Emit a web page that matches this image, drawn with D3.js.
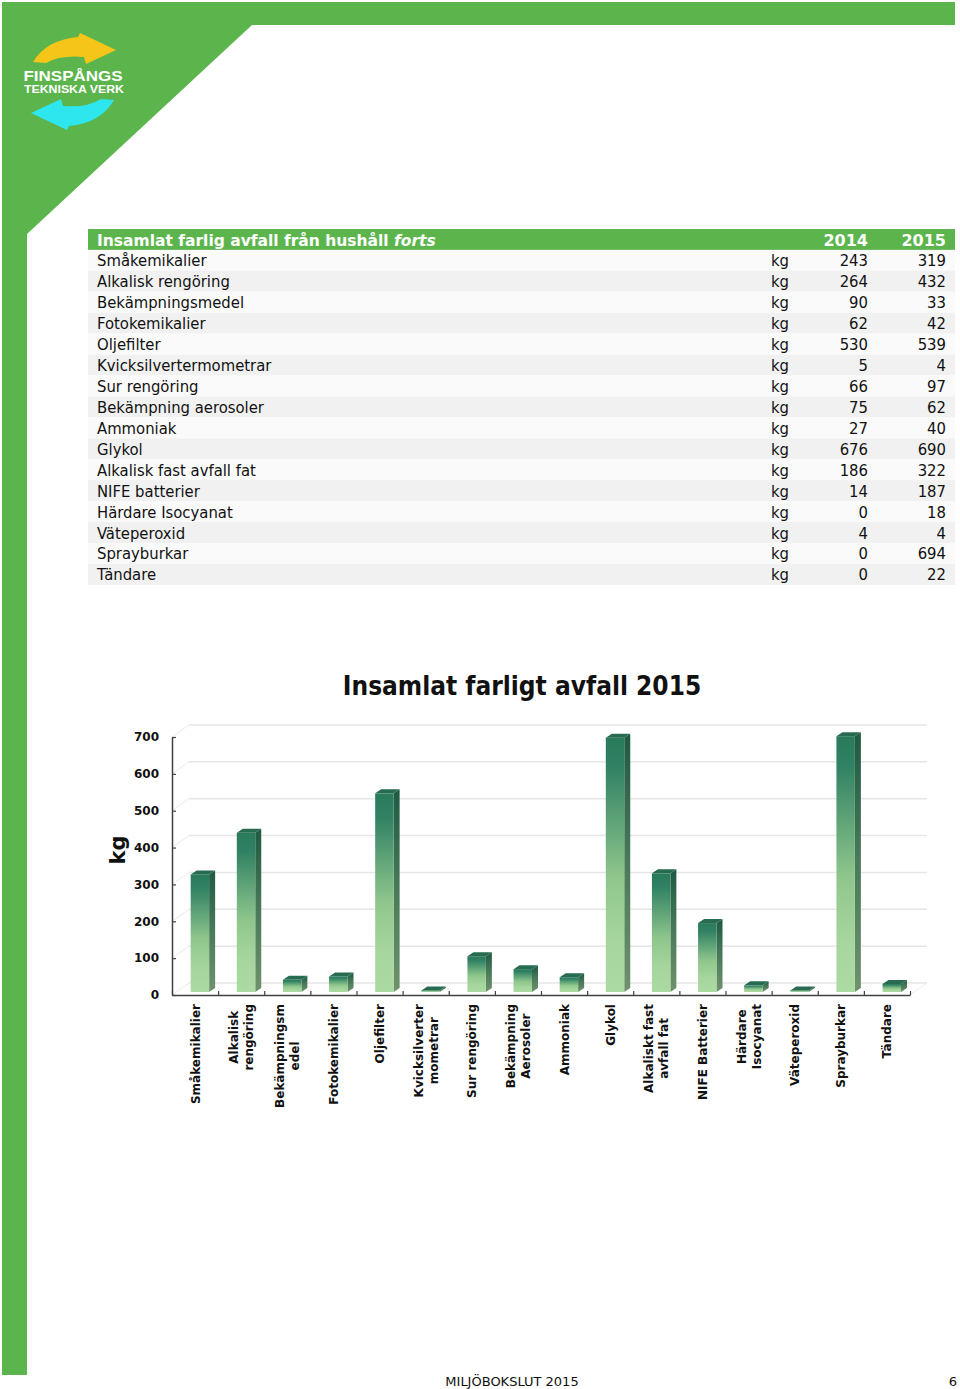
<!DOCTYPE html>
<html><head><meta charset="utf-8">
<script src="https://cdn.jsdelivr.net/npm/d3@7"></script>
<style>
html,body{margin:0;padding:0;background:#fff;}
svg{display:block;}
</style>
</head><body>
<svg id="page" width="960" height="1389"></svg>
<script>
// ---------- DATA ----------
const tableTitle = "Insamlat farlig avfall från hushåll ";
const tableTitleItalic = "forts";
const years = ["2014", "2015"];
const categories = ["Småkemikalier","Alkalisk rengöring","Bekämpningsmedel","Fotokemikalier","Oljefilter","Kvicksilvertermometrar","Sur rengöring","Bekämpning aerosoler","Ammoniak","Glykol","Alkalisk fast avfall fat","NIFE batterier","Härdare Isocyanat","Väteperoxid","Sprayburkar","Tändare"];
const units = ["kg","kg","kg","kg","kg","kg","kg","kg","kg","kg","kg","kg","kg","kg","kg","kg"];
const values2014 = [243,264,90,62,530,5,66,75,27,676,186,14,0,4,0,0];
const values2015 = [319,432,33,42,539,4,97,62,40,690,322,187,18,4,694,22];
const chartTitle = "Insamlat farligt avfall 2015";
const chartLabels = [["Småkemikalier"],["Alkalisk","rengöring"],["Bekämpningsm","edel"],["Fotokemikalier"],["Oljefilter"],["Kvicksilverter","mometrar"],["Sur rengöring"],["Bekämpning","Aerosoler"],["Ammoniak"],["Glykol"],["Alkaliskt fast","avfall fat"],["NIFE Batterier"],["Härdare","Isocyanat"],["Väteperoxid"],["Sprayburkar"],["Tändare"]];
const chartValues = values2015;
const yTicks = [0,100,200,300,400,500,600,700];
const yLabel = "kg";
const footerText = "MILJÖBOKSLUT 2015";
const pageNumber = "6";

// ---------- PAGE ----------
const svg = d3.select("#page");
const GREEN = "#5cb54c";
const FONT = "'DejaVu Sans', Verdana, sans-serif";
const FONTC = "'DejaVu Sans Condensed', 'DejaVu Sans', Verdana, sans-serif";

// green frame
svg.append("rect").attr("x",2).attr("y",2).attr("width",953).attr("height",23).attr("fill",GREEN);
svg.append("rect").attr("x",2).attr("y",2).attr("width",25).attr("height",1373).attr("fill",GREEN);
svg.append("path").attr("d","M2,2 L252,2 L252,25 L27,234 L2,234 Z").attr("fill",GREEN);

// logo
const logo = svg.append("g");
logo.append("path").attr("d","M33,62 Q46,40 78,37 L80,33 L116,50 L86,64 L84,57 Q60,55 46,63 Z").attr("fill","#f6c51a");
logo.append("path").attr("d","M114,100 Q101,123 69,126 L67,130 L31,113 L61,99 L63,106 Q87,108 101,99 Z").attr("fill","#2ee6ee");
logo.append("text").attr("x",73).attr("y",81).attr("text-anchor","middle").attr("font-family","'Liberation Sans', Arial, sans-serif").attr("font-weight","bold").attr("font-size",15).attr("fill","#fff").attr("textLength",99).attr("lengthAdjust","spacingAndGlyphs").text("FINSPÅNGS");
logo.append("text").attr("x",74).attr("y",93).attr("text-anchor","middle").attr("font-family","'Liberation Sans', Arial, sans-serif").attr("font-weight","bold").attr("font-size",11).attr("fill","#fff").attr("textLength",100).attr("lengthAdjust","spacingAndGlyphs").text("TEKNISKA VERK");

// ---------- TABLE ----------
const tX0 = 88, tX1 = 955, hdrY = 229, rowH = 20.93;
const tbl = svg.append("g");
tbl.append("rect").attr("x",tX0).attr("y",hdrY).attr("width",tX1-tX0).attr("height",rowH).attr("fill",GREEN);
const ht = tbl.append("text").attr("x",97).attr("y",hdrY+16.5).attr("font-family",FONT).attr("font-weight","bold").attr("font-size",15.5).attr("fill","#fff");
ht.append("tspan").text(tableTitle);
ht.append("tspan").attr("font-style","italic").text(tableTitleItalic);
const colX = [868, 946];
years.forEach((yr,i)=>{
  tbl.append("text").attr("x",colX[i]).attr("y",hdrY+16.5).attr("text-anchor","end").attr("font-family",FONT).attr("font-weight","bold").attr("font-size",16).attr("fill","#fff").text(yr);
});
const rows = tbl.selectAll("g.row").data(categories).join("g").attr("class","row")
  .attr("transform",(d,i)=>`translate(0,${hdrY+rowH*(i+1)})`);
rows.append("rect").attr("x",tX0).attr("y",0).attr("width",tX1-tX0).attr("height",rowH)
  .attr("fill",(d,i)=> i%2===1 ? "#f1f1f1" : "#fafafa");
rows.append("text").attr("x",97).attr("y",16.5).attr("font-family",FONTC).attr("font-size",16.5).attr("fill","#111").text(d=>d);
rows.append("text").attr("x",789).attr("y",16.5).attr("text-anchor","end").attr("font-family",FONTC).attr("font-size",16.5).attr("fill","#111").text((d,i)=>units[i]);
rows.append("text").attr("x",colX[0]).attr("y",16.5).attr("text-anchor","end").attr("font-family",FONTC).attr("font-size",16.5).attr("fill","#111").text((d,i)=>values2014[i]);
rows.append("text").attr("x",colX[1]).attr("y",16.5).attr("text-anchor","end").attr("font-family",FONTC).attr("font-size",16.5).attr("fill","#111").text((d,i)=>values2015[i]);

// ---------- CHART ----------
const chart = svg.append("g");
chart.append("text").attr("x",522).attr("y",695).attr("text-anchor","middle").attr("font-family",FONTC).attr("font-weight","bold").attr("font-size",26).attr("fill","#111").text(chartTitle);

const xAxisL = 172, xAxisR = 910, yBase = 995, yTop = 737;
const x = d3.scaleBand().domain(d3.range(chartLabels.length)).range([xAxisL, xAxisR]).paddingInner(0).paddingOuter(0);
const y = d3.scaleLinear().domain([0,700]).range([yBase, yTop]);
const bw = x.bandwidth();
const DX = 17, DY = -12; // back wall depth

// back gridlines & floor diagonals
const grid = chart.append("g");
yTicks.forEach(t=>{
  grid.append("line").attr("x1",xAxisL+DX).attr("x2",xAxisR+DX).attr("y1",y(t)+DY).attr("y2",y(t)+DY).attr("stroke","#e6e6e6").attr("stroke-width",1.5);
  grid.append("line").attr("x1",xAxisL).attr("x2",xAxisL+DX).attr("y1",y(t)).attr("y2",y(t)+DY).attr("stroke","#ececec").attr("stroke-width",1);
});
grid.append("line").attr("x1",xAxisR).attr("x2",xAxisR+DX).attr("y1",yBase).attr("y2",yBase+DY).attr("stroke","#ececec").attr("stroke-width",1);

// gradients
const defs = svg.append("defs");
const gF = defs.append("linearGradient").attr("id","gFront").attr("x1",0).attr("y1",0).attr("x2",0).attr("y2",1);
[[0,"#2a7a5c"],[0.12,"#318264"],[0.55,"#8fc68c"],[0.8,"#a6d69e"],[1,"#abdaa3"]].forEach(s=>gF.append("stop").attr("offset",s[0]).attr("stop-color",s[1]));
const gS = defs.append("linearGradient").attr("id","gSide").attr("x1",0).attr("y1",0).attr("x2",0).attr("y2",1);
[[0,"#1f5a42"],[0.5,"#4a7a5a"],[1,"#6e926c"]].forEach(s=>gS.append("stop").attr("offset",s[0]).attr("stop-color",s[1]));

// bars
const bdx = 6, bdy = -4, fW = bw*0.40, fOff = bw*0.405, barFloor = yBase-3;
const bars = chart.selectAll("g.bar").data(chartValues).join("g").attr("class","bar");
bars.append("path").attr("fill","url(#gSide)").attr("d",(v,i)=>{
  const xr = x(i)+fOff+fW, yt = y(v)-3;
  return `M${xr},${yt} L${xr+bdx},${yt+bdy} L${xr+bdx},${barFloor+bdy} L${xr},${barFloor} Z`;
});
bars.append("rect").attr("fill","url(#gFront)")
  .attr("x",(v,i)=>x(i)+fOff).attr("width",fW)
  .attr("y",v=>y(v)-3).attr("height",v=>Math.max(0.01,barFloor-(y(v)-3)));
bars.append("path").attr("fill","#276c50").attr("d",(v,i)=>{
  const xl = x(i)+fOff, xr = xl+fW, yt = y(v)-3;
  return `M${xl},${yt} L${xr},${yt} L${xr+bdx},${yt+bdy} L${xl+bdx},${yt+bdy} Z`;
});

// y axis
const yAx = chart.append("g").attr("transform",`translate(${xAxisL},0)`)
  .call(d3.axisLeft(y).tickValues(yTicks).tickSizeInner(-4).tickSizeOuter(0).tickPadding(13).tickFormat(d3.format("d")));
yAx.select(".domain").attr("stroke","#404040").attr("stroke-width",1.5);
yAx.selectAll(".tick line").attr("stroke","#404040").attr("stroke-width",1.2);
yAx.selectAll(".tick text").attr("font-family",FONT).attr("font-weight","bold").attr("font-size",12).attr("fill","#111");

// x axis line + boundary ticks
const xb = d3.scaleLinear().domain([0,chartLabels.length]).range([xAxisL,xAxisR]);
const xAx = chart.append("g").attr("transform",`translate(0,${yBase})`)
  .call(d3.axisBottom(xb).tickValues(d3.range(0,chartLabels.length+1)).tickSizeInner(-4).tickSizeOuter(0).tickFormat(""));
xAx.select(".domain").attr("stroke","#404040").attr("stroke-width",1.5);
xAx.selectAll(".tick line").attr("stroke","#404040").attr("stroke-width",1.2);

// y label
chart.append("text").attr("transform","translate(125,850) rotate(-90)").attr("text-anchor","middle")
  .attr("font-family",FONT).attr("font-weight","bold").attr("font-size",21).attr("fill","#111").text(yLabel);

// x labels
const LABEL_TOP = 1004, LINE_GAP = 15;
const lab = chart.append("g");
chartLabels.forEach((lines,i)=>{
  const cx = x(i)+bw/2;
  const g = lab.append("g");
  const texts = lines.map((ln,j)=> g.append("text")
      .attr("font-family",FONT).attr("font-weight","bold").attr("font-size",12).attr("fill","#111")
      .attr("text-anchor","middle").text(ln));
  const maxLen = d3.max(texts, t=>t.node().getComputedTextLength());
  texts.forEach((t,j)=>{
    const lx = cx + (j-(lines.length-1)/2)*LINE_GAP + 4.5;
    t.attr("transform",`translate(${lx},${LABEL_TOP+maxLen/2}) rotate(-90)`);
  });
});

// footer
svg.append("text").attr("x",512).attr("y",1386).attr("text-anchor","middle").attr("font-family",FONT).attr("font-size",13).attr("fill","#111").text(footerText);
svg.append("text").attr("x",957).attr("y",1386).attr("text-anchor","end").attr("font-family",FONT).attr("font-size",13).attr("fill","#111").text(pageNumber);
</script>
</body></html>
